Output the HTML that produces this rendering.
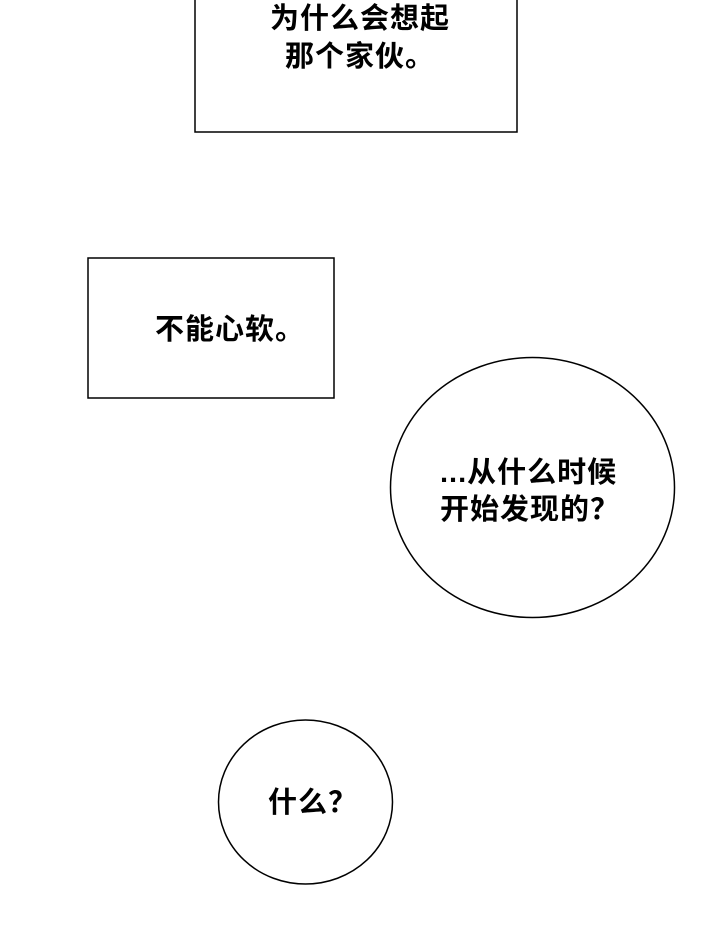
<!DOCTYPE html>
<html><head><meta charset="utf-8"><style>
body{margin:0;width:720px;height:926px;background:#fff;position:relative;overflow:hidden;font-family:"Liberation Sans","Noto Sans CJK SC",sans-serif;}
.t{position:absolute;font-size:29px;font-weight:700;color:#000;white-space:nowrap;line-height:1;letter-spacing:1px;}
</style></head><body>
<svg width="720" height="926" style="position:absolute;left:0;top:0">
<rect x="195" y="-5" width="322" height="137" fill="#fff" stroke="#000" stroke-width="1.5"/>
<rect x="88" y="258" width="246" height="140" fill="#fff" stroke="#000" stroke-width="1.5"/>
<ellipse cx="532.5" cy="487.5" rx="142" ry="130" fill="#fff" stroke="#000" stroke-width="1.5"/>
<ellipse cx="305.5" cy="802" rx="87" ry="82" fill="#fff" stroke="#000" stroke-width="1.5"/>
</svg>
<div class="t" style="left:270px;top:5px;">为什么会想起</div>
<div class="t" style="left:285px;top:43px;">那个家伙。</div>
<div class="t" style="left:155px;top:316px;">不能心软。</div>
<div class="t" style="left:440px;top:459px;">...从什么时候</div>
<div class="t" style="left:440px;top:496px;">开始发现的？</div>
<div class="t" style="left:268px;top:789px;">什么？</div>
</body></html>
